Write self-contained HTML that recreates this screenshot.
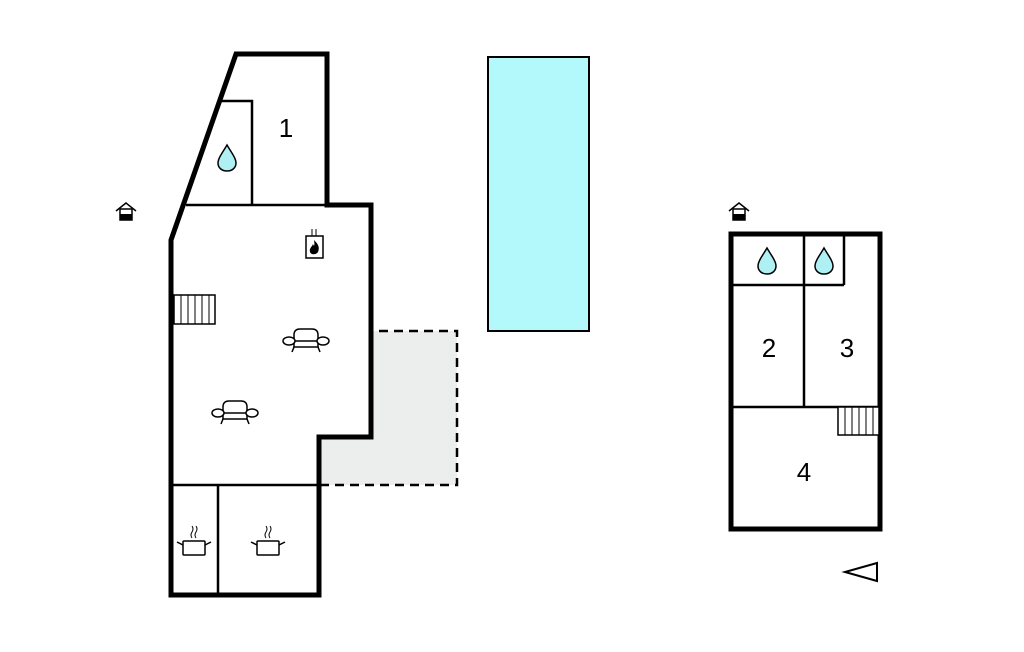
<!DOCTYPE html>
<html><head><meta charset="utf-8"><style>html,body{margin:0;padding:0;background:#fff}svg{display:block}</style></head>
<body>
<svg width="1024" height="652" viewBox="0 0 1024 652" xmlns="http://www.w3.org/2000/svg">
<defs>
<g id="drop"><path d="M0,-13 C4,-6 9,0 9,5 C9,10 5,13 0,13 C-5,13 -9,10 -9,5 C-9,0 -4,-6 0,-13Z" fill="#aef0f4" stroke="#000" stroke-width="1.5"/></g>
<g id="sofa" fill="#fff" stroke="#000" stroke-width="1.5">
<path d="M-12,-6 Q-12,-12 -6,-12 L6,-12 Q12,-12 12,-6 L12,6 L-12,6Z"/>
<line x1="-12" y1="0" x2="12" y2="0"/>
<ellipse cx="-17" cy="0" rx="6" ry="4"/><ellipse cx="17" cy="0" rx="6" ry="4"/>
<line x1="-12" y1="6" x2="-14" y2="11"/><line x1="12" y1="6" x2="14" y2="11"/>
</g>
<g id="pot" fill="#fff" stroke="#000" stroke-width="1.5">
<rect x="-11" y="-7" width="22" height="14" rx="1"/>
<line x1="-11" y1="-3" x2="-17" y2="-6"/><line x1="11" y1="-3" x2="17" y2="-6"/>
<path d="M-2,-10 q-2,-3 0,-6 q2,-3 0,-6 M2,-10 q-2,-3 0,-6 q2,-3 0,-6" fill="none" stroke-width="1"/>
</g>
<g id="house">
<path d="M-10,0 L0,-8 L10,0" fill="none" stroke="#000" stroke-width="1.5"/>
<rect x="-6" y="-2" width="12" height="11" fill="#fff" stroke="#000" stroke-width="1.5"/>
<rect x="-6" y="3" width="12" height="6" fill="#000"/>
</g>
</defs>

<!-- terrace -->
<rect x="319" y="331" width="138" height="154" fill="#eceeee" stroke="#000" stroke-width="2.5" stroke-dasharray="9,6"/>
<!-- left building -->
<path d="M236,54 L327,54 L327,205 L371,205 L371,437 L319,437 L319,595 L171,595 L171,240 Z" fill="#fff" stroke="#000" stroke-width="5"/>
<line x1="186" y1="205" x2="327" y2="205" stroke="#000" stroke-width="2.5"/>
<polyline points="218,101 252,101 252,205" fill="none" stroke="#000" stroke-width="2.5"/>
<line x1="171" y1="485" x2="319" y2="485" stroke="#000" stroke-width="2.5"/>
<line x1="218" y1="485" x2="218" y2="595" stroke="#000" stroke-width="2.5"/>
<!-- stairs left -->
<rect x="174" y="295" width="41" height="29" fill="#fff" stroke="#000" stroke-width="1.5"/>
<path d="M181,295v29M188,295v29M195,295v29M202,295v29M209,295v29" stroke="#000" stroke-width="1"/>
<use href="#drop" x="227" y="158"/>
<!-- fireplace -->
<rect x="306" y="236" width="17" height="22" fill="#fff" stroke="#000" stroke-width="1.5"/>
<path d="M312,229v7M316,229v7" stroke="#000" stroke-width="1"/>
<path d="M314,240 C318,244 320,247 318,252 C316,255 311,255 310,252 C309,248 312,247 313,244 C314,247 315,246 314,240Z" fill="#000"/>
<use href="#sofa" x="306" y="341"/>
<use href="#sofa" x="235" y="413"/>
<use href="#pot" x="194" y="548"/>
<use href="#pot" x="268" y="548"/>
<use href="#house" x="126" y="211"/>
<use href="#house" x="739" y="211"/>
<text x="286" y="137" font-family="Liberation Sans, sans-serif" font-size="26" text-anchor="middle">1</text>

<!-- pool -->
<rect x="488" y="57" width="101" height="274" fill="#b3f8fb" stroke="#000" stroke-width="2"/>

<!-- right building -->
<rect x="731" y="234" width="149" height="295" fill="#fff" stroke="#000" stroke-width="5"/>
<line x1="731" y1="285" x2="844" y2="285" stroke="#000" stroke-width="2.5"/>
<line x1="804" y1="234" x2="804" y2="407" stroke="#000" stroke-width="2.5"/>
<line x1="844" y1="234" x2="844" y2="285" stroke="#000" stroke-width="2.5"/>
<line x1="731" y1="407" x2="880" y2="407" stroke="#000" stroke-width="2.5"/>
<rect x="838" y="407" width="41" height="28" fill="#fff" stroke="#000" stroke-width="1.5"/>
<path d="M845,407v28M852,407v28M859,407v28M866,407v28M873,407v28" stroke="#000" stroke-width="1"/>
<use href="#drop" x="767" y="261"/>
<use href="#drop" x="824" y="261"/>
<text x="769" y="357" font-family="Liberation Sans, sans-serif" font-size="26" text-anchor="middle">2</text>
<text x="847" y="357" font-family="Liberation Sans, sans-serif" font-size="26" text-anchor="middle">3</text>
<text x="804" y="481" font-family="Liberation Sans, sans-serif" font-size="26" text-anchor="middle">4</text>
<path d="M877,563 L845,572 L877,581 Z" fill="none" stroke="#000" stroke-width="2"/>
</svg>
</body></html>
